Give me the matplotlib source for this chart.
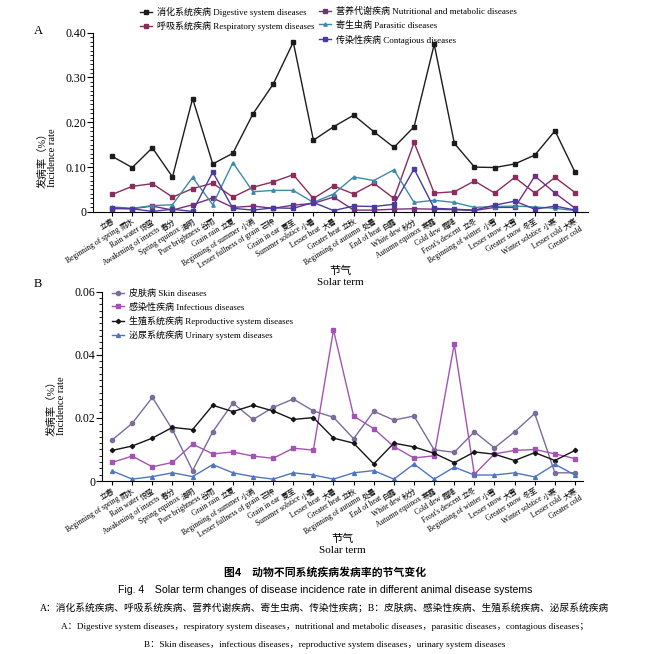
import matplotlib
matplotlib.use('Agg')
import matplotlib.pyplot as plt
from matplotlib.ticker import MultipleLocator, FixedLocator


plt.rcParams['font.family'] = ['Liberation Serif', 'Noto Sans CJK SC']
plt.rcParams['axes.unicode_minus'] = False

# 24 solar terms
terms_cn = ['立春', '雨水', '惊蛰', '春分', '清明', '谷雨', '立夏', '小满',
            '芒种', '夏至', '小暑', '大暑', '立秋', '处暑', '白露', '秋分',
            '寒露', '霜降', '立冬', '小雪', '大雪', '冬至', '小寒', '大寒']
terms_en = ['Beginning of spring', 'Rain water', 'Awakening of insects',
            'Spring equinox', 'Pure brightness', 'Grain rain',
            'Beginning of summer', 'Lesser fullness of grain', 'Grain in ear',
            'Summer solstice', 'Lesser heat', 'Greater heat',
            'Beginning of autumn', 'End of heat', 'White dew',
            'Autumn equinox', 'Cold dew', "Frost's descent",
            'Beginning of winter', 'Lesser snow', 'Greater snow',
            'Winter solstice', 'Lesser cold', 'Greater cold']

# Panel A
digestive = [0.124, 0.099, 0.143, 0.078, 0.253, 0.107, 0.131, 0.219, 0.285, 0.379, 0.160, 0.190,
             0.216, 0.179, 0.144, 0.190, 0.374, 0.153, 0.100, 0.099, 0.107, 0.127, 0.181, 0.088]
respiratory = [0.039, 0.057, 0.063, 0.033, 0.052, 0.064, 0.033, 0.055, 0.067, 0.083, 0.030, 0.058,
               0.040, 0.064, 0.030, 0.155, 0.042, 0.045, 0.069, 0.042, 0.077, 0.042, 0.077, 0.043]
nutritional = [0.007, 0.007, 0.013, 0.004, 0.016, 0.031, 0.010, 0.013, 0.008, 0.015, 0.019, 0.033,
               0.004, 0.004, 0.006, 0.007, 0.006, 0.005, 0.003, 0.010, 0.010, 0.080, 0.042, 0.008]
parasitic = [0.011, 0.008, 0.014, 0.016, 0.077, 0.016, 0.110, 0.045, 0.048, 0.048, 0.021, 0.040,
             0.078, 0.070, 0.094, 0.021, 0.026, 0.021, 0.010, 0.012, 0.013, 0.011, 0.008, 0.003]
contagious = [0.009, 0.007, 0.001, 0.006, 0.001, 0.089, 0.008, 0.004, 0.009, 0.008, 0.021, 0.003,
              0.013, 0.012, 0.017, 0.096, 0.008, 0.006, 0.004, 0.015, 0.024, 0.006, 0.013, 0.004]

# Panel B
skin = [0.0130, 0.0183, 0.0265, 0.0163, 0.0033, 0.0156, 0.0247, 0.0195, 0.0233, 0.0260, 0.0222, 0.0202,
        0.0134, 0.0221, 0.0193, 0.0206, 0.0099, 0.0091, 0.0156, 0.0105, 0.0156, 0.0214, 0.0026, 0.0026]
infectious = [0.0059, 0.0079, 0.0045, 0.0059, 0.0117, 0.0086, 0.0092, 0.0079, 0.0072, 0.0104, 0.0098, 0.0479,
              0.0206, 0.0166, 0.0109, 0.0073, 0.0080, 0.0434, 0.0021, 0.0086, 0.0097, 0.0100, 0.0086, 0.0071]
reproductive = [0.0097, 0.0111, 0.0136, 0.0170, 0.0163, 0.0240, 0.0220, 0.0240, 0.0222, 0.0195, 0.0201, 0.0136,
                0.0120, 0.0054, 0.0120, 0.0108, 0.0088, 0.0058, 0.0092, 0.0085, 0.0065, 0.0090, 0.0065, 0.0097]
urinary = [0.0032, 0.0006, 0.0014, 0.0026, 0.0014, 0.0052, 0.0026, 0.0014, 0.0006, 0.0026, 0.0019, 0.0006,
           0.0026, 0.0033, 0.0006, 0.0054, 0.0006, 0.0044, 0.0019, 0.0019, 0.0026, 0.0013, 0.0053, 0.0019]

x = list(range(len(terms_cn)))
tick_labels = [c + '\n' + e for c, e in zip(terms_cn, terms_en)]

fig = plt.figure(figsize=(6.5, 6.54), dpi=100)
axA = fig.add_axes([0.143, 0.676, 0.762, 0.274])
axB = fig.add_axes([0.157, 0.2645, 0.740, 0.2895])


def style_axis(ax, xlim, ylim, major, minor, ylabels):
    ax.set_xlim(*xlim)
    ax.set_ylim(*ylim)
    ax.spines['top'].set_visible(False)
    ax.spines['right'].set_visible(False)
    for s in ['left', 'bottom']:
        ax.spines[s].set_linewidth(0.8)
    ax.yaxis.set_major_locator(FixedLocator(major))
    ax.set_yticklabels(ylabels, fontsize=8.5)
    ax.yaxis.set_minor_locator(MultipleLocator(minor))
    ax.tick_params(axis='y', which='major', direction='out', length=4, width=0.8, pad=1)
    ax.tick_params(axis='y', which='minor', direction='out', length=2, width=0.6)
    ax.set_xticks(x)
    ax.set_xticklabels(tick_labels, rotation=32, ha='right', rotation_mode='anchor',
                       fontsize=5.5, linespacing=1.2)
    ax.tick_params(axis='x', direction='out', length=3, width=0.8, pad=1)
    ax.set_ylabel('发病率（%）\nIncidence rate', fontsize=7.5, linespacing=1.1)
    ax.set_xlabel('节气\nSolar term', fontsize=8, linespacing=1.3)


lw = 1.0
axA.plot(x, digestive, color='#1c1c1c', marker='s', ms=2.2, lw=lw,
         label='消化系统疾病 Digestive system diseases')
axA.plot(x, respiratory, color='#8a2d5c', marker='s', ms=2.2, lw=lw,
         label='呼吸系统疾病 Respiratory system diseases')
axA.plot(x, nutritional, color='#74307f', marker='s', ms=2.2, lw=lw,
         label='营养代谢疾病 Nutritional and metabolic diseases')
axA.plot(x, parasitic, color='#3d8aa8', marker='^', ms=2.4, lw=lw,
         label='寄生虫病 Parasitic diseases')
axA.plot(x, contagious, color='#4a3c9e', marker='s', ms=2.2, lw=lw,
         label='传染性疾病 Contagious diseases')

axB.plot(x, skin, color='#7b6c9c', marker='o', ms=3.0, lw=lw,
         label='皮肤病 Skin diseases')
axB.plot(x, infectious, color='#a354b3', marker='s', ms=2.8, lw=lw,
         label='感染性疾病 Infectious diseases')
axB.plot(x, reproductive, color='#151515', marker='D', ms=2.2, lw=lw,
         label='生殖系统疾病 Reproductive system diseases')
axB.plot(x, urinary, color='#4f76bd', marker='^', ms=2.8, lw=lw,
         label='泌尿系统疾病 Urinary system diseases')

style_axis(axA, (-0.95, 23.65), (0, 0.40), [0, 0.10, 0.20, 0.30, 0.40], 0.01,
           ['0', '0.10', '0.20', '0.30', '0.40'])
style_axis(axB, (-0.5, 23.4), (0, 0.06), [0, 0.02, 0.04, 0.06], 0.002,
           ['0', '0.02', '0.04', '0.06'])

axA.yaxis.set_label_coords(-0.072, 0.30)
axB.yaxis.set_label_coords(-0.075, 0.40)
axA.xaxis.set_label_coords(0.5, -0.30)
axB.xaxis.set_label_coords(0.5, -0.28)

# legends
hA, lA = axA.get_legend_handles_labels()
leg_kw = dict(frameon=False, fontsize=6.5, handlelength=1.4, handletextpad=0.5,
              borderpad=0, borderaxespad=0, labelspacing=0.55)
fig.legend(hA[:2], lA[:2], loc='upper left', bbox_to_anchor=(0.215, 0.99), **leg_kw)
fig.legend(hA[2:], lA[2:], loc='upper left', bbox_to_anchor=(0.49, 0.99), **leg_kw)
hB, lB = axB.get_legend_handles_labels()
leg_kw['labelspacing'] = 0.5
fig.legend(hB, lB, loc='upper left', bbox_to_anchor=(0.172, 0.558), **leg_kw)

fig.text(0.052, 0.952, 'A', fontsize=9, va='center')
fig.text(0.052, 0.566, 'B', fontsize=9, va='center')

# caption
fig.text(0.5, 0.125, '图4　动物不同系统疾病发病率的节气变化', ha='center', va='center',
         fontsize=7.8, fontweight='bold', family=['Noto Sans CJK SC', 'DejaVu Sans'])
fig.text(0.5, 0.098, 'Fig. 4　Solar term changes of disease incidence rate in different animal disease systems',
         ha='center', va='center', fontsize=7.6, family=['Liberation Sans', 'Noto Sans CJK SC'])
fig.text(0.5, 0.071, 'A：消化系统疾病、呼吸系统疾病、营养代谢疾病、寄生虫病、传染性疾病；B：皮肤病、感染性疾病、生殖系统疾病、泌尿系统疾病',
         ha='center', va='center', fontsize=7.0)
fig.text(0.5, 0.041, 'A：Digestive system diseases，respiratory system diseases，nutritional and metabolic diseases，parasitic diseases，contagious diseases；',
         ha='center', va='center', fontsize=6.7)
fig.text(0.5, 0.013, 'B：Skin diseases，infectious diseases，reproductive system diseases，urinary system diseases',
         ha='center', va='center', fontsize=6.7)

fig.savefig('out.png', dpi=100)
